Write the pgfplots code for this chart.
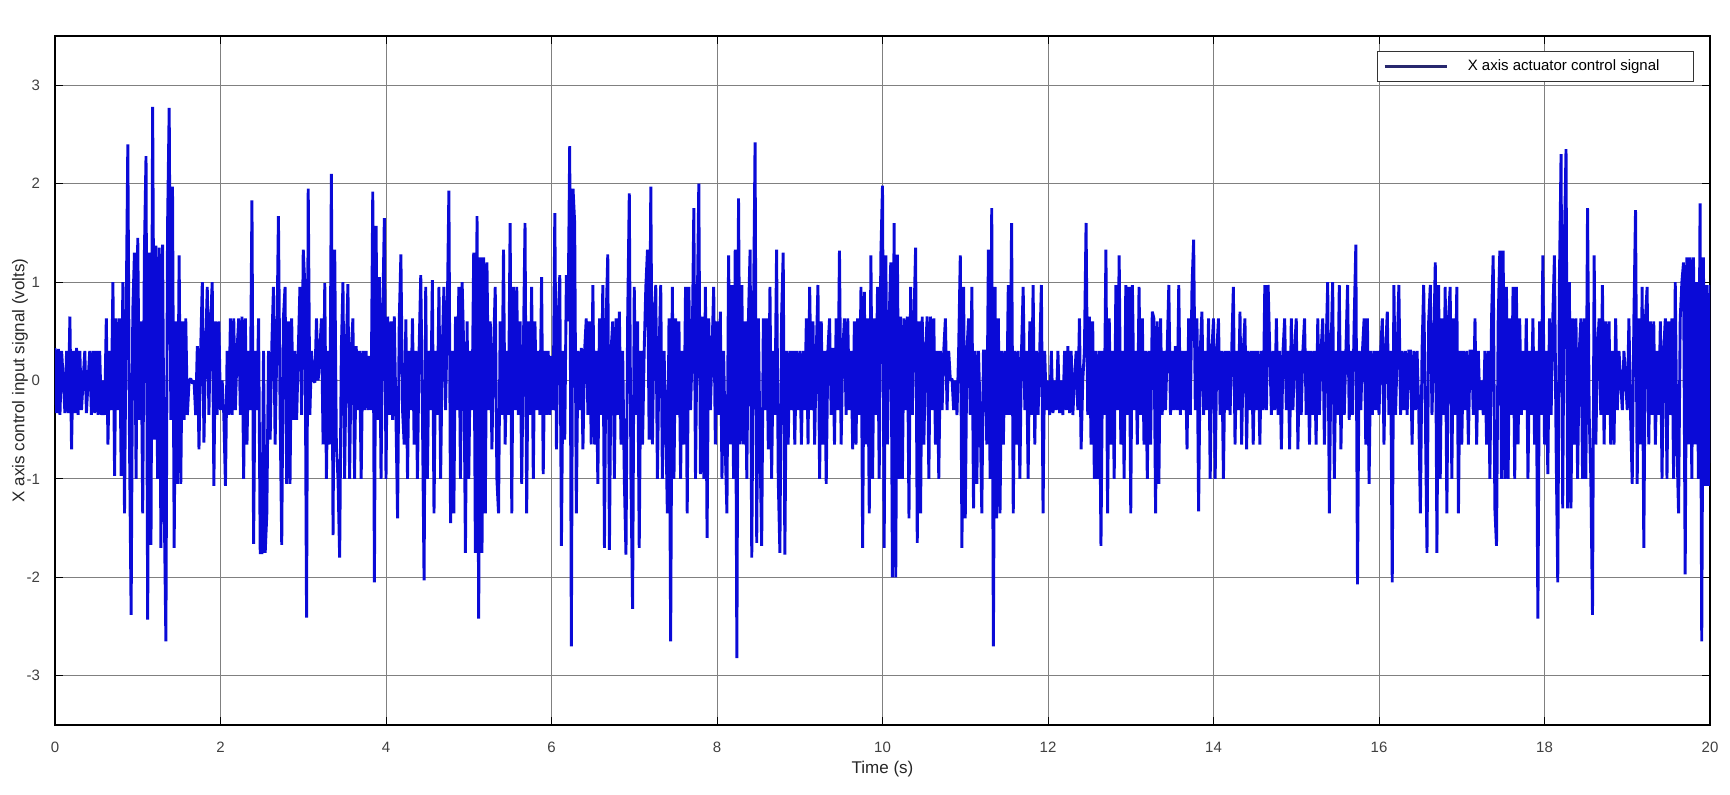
\documentclass[border=0pt]{standalone}
\usepackage{fontspec}
\setmainfont{Liberation Sans}
\usepackage{pgfplots}
\usepackage{pgfplotstable}
\pgfplotsset{compat=1.18}
\definecolor{sigblue}{RGB}{10,10,215}
\definecolor{navyleg}{RGB}{40,40,110}
\pgfplotstableread[row sep=\\]{
y\\
0.33\\-0.33\\0.32\\-0.35\\0.3\\0\\-0.33\\0.3\\-0.33\\0.65\\-0.7\\0.3\\-0.33\\0.33\\-0.35\\0.3\\-0.3\\0\\0.3\\-0.33\\0\\0.3\\-0.35\\0.3\\-0.33\\
0.3\\-0.35\\0.3\\-0.35\\0\\-0.35\\0.63\\-0.65\\0.3\\-0.3\\1.0\\-0.97\\0.63\\-0.3\\0.63\\-0.97\\1.0\\-1.35\\0.65\\2.4\\-0.6\\-2.38\\0.7\\1.3\\-1.0\\
1.45\\-0.4\\0.6\\-1.35\\1.28\\2.28\\-2.43\\1.3\\-1.67\\2.78\\-0.6\\1.37\\-1.0\\1.35\\-1.7\\1.38\\-1.25\\-2.65\\1.55\\2.77\\-0.4\\1.97\\-1.7\\0.6\\-1.05\\
1.27\\-1.05\\0.6\\-0.4\\0.63\\-0.35\\0\\0.02\\-0.03\\0\\-0.35\\0.35\\-0.7\\0.3\\1.0\\-0.63\\0.3\\0.95\\-0.35\\0.6\\1.0\\-1.07\\0.6\\-0.35\\0.6\\
-0.3\\0\\-0.35\\-1.07\\0.3\\-0.35\\0.63\\-0.35\\0.63\\-0.3\\0.3\\0.63\\-0.35\\0.65\\-1.0\\0.63\\-0.65\\0.3\\-0.3\\1.83\\-1.66\\0.3\\-0.3\\0.63\\-1.75\\
-1.75\\0.3\\-1.75\\-1.35\\0.3\\-0.6\\0.35\\0.95\\-0.65\\0.3\\1.67\\-0.3\\-1.67\\0.63\\0.95\\-1.05\\0.6\\-1.05\\0.63\\-0.4\\0.3\\-0.4\\0.3\\0.95\\-0.35\\
1.33\\0.95\\-2.41\\1.95\\-0.35\\0.3\\0\\-0.02\\0.63\\0\\0.3\\0.63\\-0.65\\0.99\\-1.0\\0.3\\-0.65\\2.1\\-1.57\\1.33\\-0.65\\-1.0\\-1.8\\0.3\\1.0\\
-1.0\\0.3\\0.98\\-1.0\\0.3\\0.63\\-1.0\\0.35\\-0.3\\0.3\\-1.0\\0.3\\-0.3\\0.3\\-0.3\\0.25\\-0.3\\1.92\\-2.05\\1.57\\-0.4\\1.05\\-1.0\\0.63\\1.65\\
-1.0\\0.65\\-0.35\\0.6\\-0.4\\0.65\\-0.35\\-1.4\\0.6\\1.28\\-0.3\\-0.65\\0.62\\-1.0\\0.3\\-0.3\\0.63\\-0.65\\0.3\\-1.0\\0.3\\1.07\\-0.3\\-2.03\\0.95\\
-1.0\\0.3\\-0.3\\1.02\\-1.35\\0.3\\-0.35\\0.95\\-1.0\\0.3\\0.95\\-0.3\\0.65\\1.93\\-1.45\\0.3\\-1.35\\0.65\\-0.3\\0.95\\-1.0\\1.0\\0.3\\-1.75\\0.6\\
-1.0\\0.3\\-0.3\\1.3\\-1.75\\1.67\\-2.42\\1.25\\-1.75\\1.25\\-1.35\\1.2\\-0.3\\0.6\\-0.7\\0.3\\0.95\\-1.0\\-1.35\\0.6\\-0.35\\1.33\\-0.65\\0.3\\-0.35\\
1.6\\-1.35\\0.95\\-0.3\\0.95\\-0.35\\0.6\\-1.05\\0.3\\1.6\\-1.35\\0.6\\-0.35\\0.95\\-1.0\\0.6\\-0.3\\0.3\\-0.35\\1.05\\-0.95\\0.3\\-0.35\\0.3\\-0.35\\
0.25\\-0.3\\1.7\\-0.7\\0.6\\1.07\\-1.68\\0.3\\-0.6\\1.07\\0.6\\2.38\\-2.7\\1.95\\1.6\\-1.35\\0.3\\-0.3\\0.33\\-0.7\\0.3\\0.63\\-0.35\\0.6\\-0.65\\
0.97\\-0.65\\0.3\\-1.05\\0.63\\-0.35\\0.97\\-1.7\\0.6\\1.28\\-1.72\\0.3\\0.6\\-1.0\\0.63\\-0.35\\0.7\\-0.65\\0.3\\-1.0\\-1.77\\0.6\\1.9\\-1.0\\-2.32\\
0.95\\-0.35\\0.6\\-1.7\\0.3\\-0.65\\0.3\\0.95\\1.33\\-0.6\\1.97\\-0.65\\0.63\\0.97\\-1.0\\0.3\\0.97\\-1.0\\0.3\\-0.35\\-1.35\\0.63\\-2.65\\0.95\\-1.0\\
0.63\\-0.35\\0.6\\-1.0\\0.3\\-0.65\\0.95\\-1.35\\0.95\\-0.3\\0.3\\1.75\\-1.0\\0.6\\2.0\\-0.95\\0.65\\-1.0\\0.95\\-1.6\\0.63\\-0.3\\0.3\\0.95\\-0.65\\
0.6\\-0.35\\0.7\\-1.0\\0.3\\-0.7\\-1.35\\1.27\\-0.65\\0.97\\-1.0\\1.33\\-2.82\\1.85\\-0.65\\0.97\\-0.65\\0.6\\-1.0\\0.63\\1.33\\-1.8\\0.6\\2.42\\-1.65\\
0.63\\-0.7\\-1.68\\0.63\\-0.3\\0.63\\-0.7\\0.95\\-1.0\\0.3\\-0.35\\1.33\\-1.0\\-1.75\\0.63\\1.3\\-1.77\\0.3\\-0.65\\0.3\\-0.3\\0.3\\-0.65\\0.3\\-0.3\\
0.3\\-0.65\\0.3\\-0.3\\0.63\\-0.65\\0.95\\-0.3\\0.6\\-0.65\\0.3\\0.97\\-1.0\\0.6\\-0.65\\0.3\\-1.05\\0.3\\0.63\\-0.35\\0.33\\-0.65\\0.63\\-0.3\\1.32\\
-0.65\\0.3\\0.63\\-0.35\\0.63\\-0.3\\0.3\\-0.7\\0.6\\-0.65\\0.63\\-0.35\\0.95\\-1.7\\0.9\\-0.65\\0.63\\-1.35\\1.27\\-1.0\\0.63\\-0.35\\0.95\\-1.0\\1.27\\
1.98\\-1.7\\1.27\\-0.65\\0.6\\1.2\\-2.0\\1.6\\-2.0\\1.28\\-1.0\\0.65\\-1.0\\0.63\\-0.3\\0.65\\-1.4\\0.95\\-0.35\\0.6\\1.35\\-1.65\\0.6\\-1.35\\0.65\\
-0.65\\0.3\\0.65\\-1.0\\0.65\\-0.3\\0.63\\-0.65\\0.3\\-1.0\\0.3\\-0.3\\0.3\\0.63\\-0.3\\0.3\\0\\0.02\\-0.3\\0\\-0.35\\0.3\\1.27\\-1.7\\0.95\\
-1.4\\0.3\\0.63\\-0.35\\0.95\\-1.3\\0.3\\-1.05\\0.3\\-0.35\\-1.35\\0.3\\0.3\\-0.65\\1.33\\-1.0\\1.75\\-2.7\\0.95\\-1.4\\0.63\\-1.35\\0.3\\-0.65\\0.3\\
-0.35\\0.97\\-0.35\\1.6\\-1.35\\0.3\\-0.65\\0.3\\-1.0\\0.3\\0.95\\-0.3\\0.3\\-1.0\\0.6\\-0.35\\0.97\\-0.65\\0.3\\-0.35\\0.3\\0.97\\-1.35\\0.3\\-0.3\\
0\\-0.35\\0.3\\-0.33\\0\\-0.3\\0.3\\-0.33\\0\\-0.35\\0.3\\-0.3\\0.35\\-0.33\\0.3\\-0.35\\0\\0.3\\-0.3\\0.63\\-0.7\\0\\0.3\\1.6\\-0.35\\
0.65\\-0.65\\0.6\\-1.0\\0.3\\-1.0\\0.3\\-1.68\\0.3\\-0.35\\1.33\\-1.35\\0.63\\-0.65\\0.3\\-1.0\\0.97\\-0.3\\1.27\\-0.65\\0.3\\-1.0\\0.97\\-0.35\\0.95\\
-1.35\\0.97\\-0.3\\0.3\\-0.65\\0.95\\-0.35\\0.63\\-0.65\\0.3\\-1.0\\0.3\\-0.65\\0.7\\0.63\\-1.35\\0.6\\-1.05\\0.63\\-0.35\\0.3\\-0.3\\0.3\\0.97\\-0.35\\
0.3\\-0.3\\0.35\\-0.3\\0.97\\-0.35\\0.3\\-0.3\\0.3\\-0.7\\0.63\\-0.35\\0.95\\1.43\\-0.3\\0.63\\-1.33\\0.3\\0.7\\-0.35\\0.3\\-0.3\\0.63\\-1.0\\0.3\\
0.63\\-1.0\\0.3\\0.63\\-0.35\\0.3\\-1.0\\0.3\\-0.3\\0.3\\-0.35\\0.3\\0.95\\-0.65\\0.3\\-0.3\\0.7\\-0.65\\0.3\\0.63\\-0.7\\0.3\\-0.3\\0.3\\-0.65\\
0.3\\-0.3\\0.3\\-0.65\\0.3\\-0.3\\0.97\\-0.3\\0.97\\0.3\\-0.35\\0.3\\-0.3\\0.63\\-0.35\\0.3\\-0.7\\0.3\\0.63\\-0.3\\0.3\\-0.7\\0.63\\-0.3\\0.3\\
0.63\\-0.7\\0.3\\-0.35\\0.3\\0.63\\-0.35\\0.3\\-0.65\\0.3\\-0.35\\0.3\\-0.65\\0.63\\-0.35\\0.3\\0.63\\-0.65\\0.3\\1.0\\-1.35\\0.3\\1.0\\-1.0\\0.3\\
-0.35\\0.97\\-0.7\\0.3\\-0.35\\0.3\\0.97\\-0.4\\0.3\\-0.35\\0.6\\1.38\\-2.07\\0.3\\-0.3\\0.3\\0.63\\-0.65\\0.63\\-1.05\\0.3\\-0.35\\0.3\\-0.3\\0.3\\
-0.35\\0.3\\0.63\\-0.65\\0.3\\0.7\\-0.35\\0.3\\-2.05\\0.97\\-0.35\\0.3\\0.97\\-0.35\\0.3\\-0.3\\0.3\\-0.35\\0.3\\0.3\\-0.65\\0.3\\-0.3\\0.3\\-0.3\\
-1.35\\0.3\\0.97\\-0.35\\-1.75\\0.6\\0.97\\-0.35\\0.3\\1.2\\-1.75\\0.97\\-1.0\\0.63\\-0.35\\0.95\\-1.35\\0.63\\0.95\\-1.0\\0.63\\-0.35\\0.95\\-1.35\\0.3\\
-0.65\\0.3\\-0.3\\0.3\\-0.65\\0.3\\0.3\\-0.35\\0.63\\-0.65\\0.3\\-0.3\\0\\-0.35\\0.3\\-0.65\\0.3\\-1.0\\0.63\\1.27\\-1.3\\-1.68\\0.6\\1.32\\-1.0\\
1.32\\-1.0\\0.95\\-1.0\\0.63\\-0.35\\0.95\\-1.0\\0.95\\-0.65\\0.63\\-0.35\\0.3\\-0.3\\0.63\\-1.0\\0.3\\-0.35\\0.63\\-0.65\\0.3\\-2.42\\0.6\\-0.35\\1.27\\
-0.65\\0.3\\-0.95\\0.63\\-0.35\\0.63\\1.27\\-0.65\\-2.05\\1.0\\2.3\\-1.3\\1.4\\2.35\\-1.3\\1.0\\-1.3\\0.63\\-0.65\\0.63\\-1.0\\0.3\\0.63\\-1.0\\0.63\\
-1.0\\1.75\\-0.35\\-1.0\\-2.38\\1.27\\-0.65\\0.3\\0.63\\-0.35\\0.97\\-0.65\\0.6\\-0.35\\0.6\\-0.65\\0.3\\-0.65\\0.63\\-0.3\\0.3\\0\\-0.3\\0.3\\0\\
-0.3\\0.63\\-0.35\\-1.05\\0.63\\1.73\\-1.05\\0.63\\-0.65\\0.95\\-1.7\\0.63\\0.95\\-0.65\\0.6\\-0.35\\0.6\\-0.65\\0.3\\-0.35\\0.6\\-1.0\\0.3\\0.63\\-1.0\\
0.6\\-0.35\\0.63\\-1.0\\1.0\\-0.65\\-1.35\\0.63\\1.0\\1.2\\-1.97\\1.25\\-0.65\\1.25\\-1.0\\1.25\\-0.65\\1.0\\-1.0\\1.8\\-2.65\\1.25\\-1.07\\0.97\\-1.07\\0.97\\
}\sigdata
\begin{document}
\begin{tikzpicture}
\begin{axis}[
  name=ax,
  scale only axis,
  width=827.5pt, height=344.5pt,
  xmin=0, xmax=20, ymin=-3.5, ymax=3.5,
  xtick={0,2,...,20}, ytick={-3,-2,-1,0,1,2,3},
  grid=major,
  major grid style={line width=0.5pt, color=black!50},
  axis line style={line width=0.6pt, black},
  tick style={black, line width=0.5pt},
  tick align=inside, major tick length=4pt,
  /pgf/number format/assume math mode=true,
  ticklabel style={font=\fontsize{7.5}{9}\selectfont, text=black!75},
  xticklabel style={yshift=-5pt},
  yticklabel style={xshift=-4pt},
  xlabel={Time (s)},
  ylabel={X axis control input signal (volts)},
  label style={font=\fontsize{8.5}{10}\selectfont, text=black!85},
  xlabel style={at={(axis description cs:0.5,0)}, anchor=center, yshift=-22pt},
  ylabel style={at={(axis description cs:0,0.5)}, anchor=center, yshift=17.5pt},
  legend style={at={(1,1)}, anchor=north east, xshift=-8pt, yshift=-7.5pt,
    draw=black!80, line width=0.5pt, fill=white,
    font=\fontsize{7.5}{9}\selectfont, inner xsep=3pt, inner ysep=2pt,
    column sep=8pt},
  legend cell align=left,
  legend image code/.code={\draw[line width=1.2pt, navyleg] (0pt,0pt) -- (31pt,0pt);},
]
\addplot[sigblue, line width=1.45pt, line join=miter, miter limit=2] table[x expr=\coordindex*0.02, y=y] {\sigdata};
\addlegendentry{X axis actuator control signal\hspace*{12pt}}
\end{axis}
\pgfresetboundingbox
\path ([xshift=-27.5pt,yshift=-34.5pt]ax.south west) rectangle ([xshift=10pt,yshift=18pt]ax.north east);
\end{tikzpicture}
\end{document}
